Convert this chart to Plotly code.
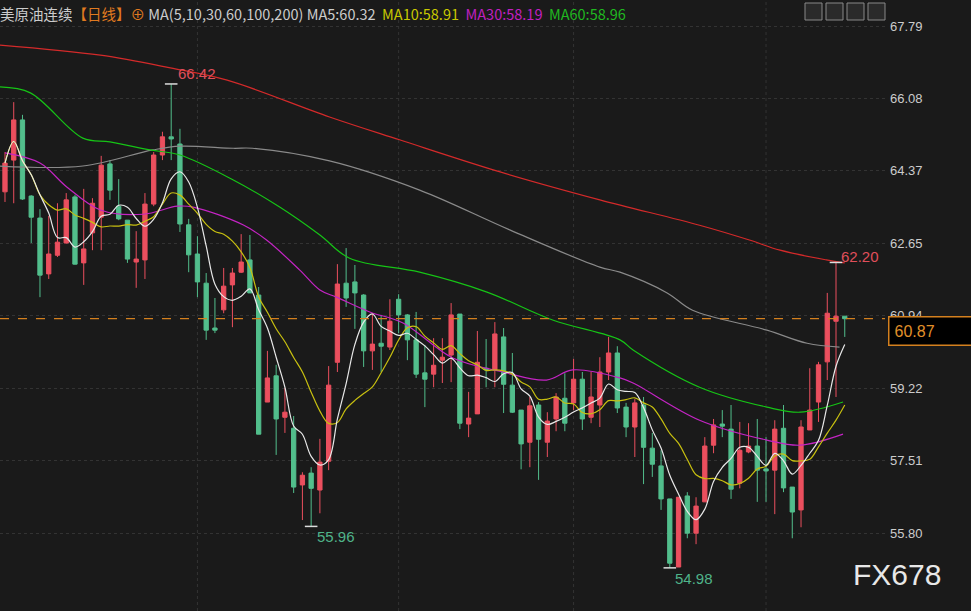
import plotly.graph_objects as go
import pandas as pd

opens = [63.87,64.62,65.57,63.77,63.25,61.93,62.37,62.66,63.75,62.19,62.90,63.27,64.53,63.53,63.20,62.21,62.26,63.58,64.74,65.17,
         65.00,63.09,62.40,61.71,60.65,61.08,61.67,61.97,62.26,61.43,58.90,59.52,58.54,58.28,56.94,57.22,56.82,57.50,59.84,61.71,
         61.74,61.43,60.11,60.29,60.20,61.33,60.96,60.37,59.59,59.56,59.89,60.01,60.98,58.38,58.62,59.70,59.66,60.44,59.30,58.71,
         57.95,58.83,57.95,58.50,58.99,58.88,59.44,58.54,58.83,59.61,60.06,58.78,58.31,58.83,57.81,57.39,56.61,55.00,56.68,55.80,
         56.54,57.88,58.38,58.26,56.98,57.72,57.86,57.32,57.29,58.28,56.89,56.35,58.24,58.90,59.85,60.81,60.93]
highs = [64.81,65.99,65.69,63.79,63.46,63.30,63.60,63.84,63.80,63.94,63.72,64.72,64.62,64.17,63.20,62.94,63.84,64.81,65.29,66.42,
         65.36,63.23,62.82,61.95,61.36,62.07,62.07,62.87,62.85,61.62,60.11,59.78,59.23,58.57,57.24,57.36,58.03,59.75,62.16,62.54,
         62.14,61.45,61.00,60.96,61.33,61.45,60.98,61.03,60.25,60.41,60.41,61.24,60.98,59.14,60.58,60.39,60.79,60.65,60.06,58.71,
         59.02,58.90,58.66,59.11,59.58,59.92,59.61,59.61,59.96,60.44,60.22,58.88,58.97,59.02,58.17,57.76,56.61,56.65,56.77,56.65,
         58.07,58.50,58.71,58.83,58.43,58.40,58.50,58.07,58.47,58.83,56.89,58.47,59.70,59.85,61.48,62.20,60.93]
lows = [63.63,63.60,63.68,62.66,61.38,61.81,62.33,62.65,62.15,61.67,62.49,62.49,63.68,63.20,62.19,61.60,61.81,63.53,64.62,64.62,
        62.92,61.97,61.38,60.37,60.53,61.00,60.67,61.95,61.48,58.14,58.90,57.65,58.17,56.75,56.11,55.96,56.27,57.29,59.61,61.15,
        60.63,59.73,59.66,59.61,60.13,60.53,59.89,59.47,58.78,59.25,59.35,59.37,58.26,58.07,58.62,59.25,59.25,58.64,58.64,57.31,
        57.36,57.06,57.60,58.21,58.21,58.71,58.24,58.40,58.31,59.42,58.64,58.07,57.60,56.96,57.13,56.35,54.98,55.00,55.68,55.54,
        56.54,57.69,58.07,56.61,56.86,57.69,56.54,56.54,56.25,56.77,55.68,55.94,58.24,58.43,59.42,59.02,60.44]
closes = [64.55,65.57,63.70,63.27,61.90,62.40,62.68,63.68,62.16,62.52,63.60,64.50,63.91,63.23,62.28,62.28,63.58,64.74,65.17,65.12,
          63.11,62.38,61.74,60.60,60.60,61.64,61.95,62.21,61.48,58.14,59.47,58.50,58.66,56.89,57.17,56.86,57.48,59.30,61.69,61.36,
          61.48,60.11,60.27,60.22,60.81,60.96,60.37,59.56,59.44,59.77,59.96,60.96,58.40,58.52,59.84,59.66,60.51,59.32,58.66,57.91,
          58.81,58.02,58.45,59.02,58.40,59.44,58.50,59.02,59.61,60.06,58.76,58.31,58.88,57.83,57.43,56.61,55.09,56.65,55.80,56.44,
          57.86,58.36,58.33,56.84,57.76,57.86,57.29,57.27,58.26,56.87,56.30,58.31,58.71,59.78,61.00,60.93,60.87]

ma30_x = [0,4,7.1,10.9,15.8,19.7,21.5,27.2,29.9,33.7,36,37.9,41.7,45.5,51.2,56.9,61.9,64.9,70.3,71.8,79.4,87.1,90.9,95.8]
ma30_y = [64.79,64.55,63.98,63.44,63.34,63.53,63.51,63.09,62.73,62.02,61.55,61.38,61.03,60.77,59.94,59.61,59.42,59.66,59.47,59.35,58.47,58.00,57.88,58.14]
ma60_x = [-0.6,2.9,8.9,12,16.6,20,26.1,31.4,36,39.4,47.4,55.1,62.6,70.3,71.8,79.4,87.1,90.9,95.8]
ma60_y = [66.35,66.21,65.14,65.05,64.86,64.74,64.15,63.51,62.85,62.30,61.97,61.50,60.84,60.37,60.13,59.25,58.78,58.66,58.90]
ma100_x = [-0.6,8.9,16.9,20,26.1,28.3,37.1,47.4,57.7,68,70.3,75.7,78.6,87.1,91.7,95.4]
ma100_y = [64.48,64.48,64.86,64.95,64.90,64.90,64.60,63.91,62.97,62.09,61.97,61.48,61.07,60.60,60.29,60.20]
ma200_x = [-0.6,10.9,18.9,25.4,37.1,45.1,56.6,68,79.4,85.1,88.6,93.9,96]
ma200_y = [67.34,67.10,66.80,66.51,65.64,65.10,64.34,63.68,63.08,62.73,62.49,62.26,62.19]

yticks = [67.79,66.08,64.37,62.65,60.94,59.22,57.51,55.80]
month_lines = [22,45,65,87]
last_price = 60.87

BG = "#1a1a1a"
RED = "#eb4f5e"
GREEN = "#52be8c"
idx = list(range(len(closes)))
cs = pd.Series(closes)
ma5 = cs.rolling(5, min_periods=1).mean()
ma10 = cs.rolling(10, min_periods=1).mean()

fig = go.Figure()
fig.add_trace(go.Candlestick(x=idx, open=opens, high=highs, low=lows, close=closes,
    increasing=dict(line=dict(color=RED, width=1), fillcolor=RED),
    decreasing=dict(line=dict(color=GREEN, width=1), fillcolor=GREEN),
    whiskerwidth=0, hoverinfo="skip"))
fig.add_trace(go.Scatter(x=ma200_x, y=ma200_y, mode="lines", line=dict(color="#d42a2a", width=1.2, shape="spline")))
fig.add_trace(go.Scatter(x=ma100_x, y=ma100_y, mode="lines", line=dict(color="#8a8a8a", width=1.2, shape="spline")))
fig.add_trace(go.Scatter(x=ma60_x, y=ma60_y, mode="lines", line=dict(color="#16c416", width=1.2, shape="spline")))
fig.add_trace(go.Scatter(x=ma30_x, y=ma30_y, mode="lines", line=dict(color="#c424c4", width=1.2, shape="spline")))
fig.add_trace(go.Scatter(x=idx, y=ma10, mode="lines", line=dict(color="#c8c010", width=1.2, shape="spline")))
fig.add_trace(go.Scatter(x=idx, y=ma5, mode="lines", line=dict(color="#e8e8e8", width=1.2, shape="spline")))

hi_i = highs.index(max(highs[:30]))
lo1 = lows.index(min(lows[:50]))
lo2 = lows.index(min(lows))
hi2 = highs.index(max(highs[80:]))
fig.add_trace(go.Scatter(x=[hi_i, lo1, lo2, hi2], y=[highs[hi_i], lows[lo1], lows[lo2], highs[hi2]],
    mode="markers", marker=dict(symbol="line-ew", size=9, line=dict(color="#dddddd", width=1.5))))

ann = []
ann.append(dict(x=hi_i, y=highs[hi_i], text=f"{highs[hi_i]:.2f}", xanchor="left", yanchor="bottom",
                showarrow=False, xshift=5, font=dict(color="#e04f5a", size=15, family="Arial")))
ann.append(dict(x=lo1, y=lows[lo1], text=f"{lows[lo1]:.2f}", xanchor="left", yanchor="top",
                showarrow=False, xshift=4, font=dict(color="#4fb389", size=15, family="Arial")))
ann.append(dict(x=lo2, y=lows[lo2], text=f"{lows[lo2]:.2f}", xanchor="left", yanchor="top",
                showarrow=False, xshift=3, font=dict(color="#4fb389", size=15, family="Arial")))
ann.append(dict(x=hi2, y=highs[hi2], text=f"{highs[hi2]:.2f}", xanchor="left", yanchor="middle",
                showarrow=False, xshift=3, yshift=6, font=dict(color="#e04f5a", size=15, family="Arial")))
ann.append(dict(xref="paper", yref="y", x=1.003, y=last_price, text=f"{last_price:.2f}", xanchor="left", yanchor="middle",
                showarrow=False, bgcolor="#000000", bordercolor="#d4801e", borderwidth=1.5, borderpad=5,
                width=72, align="left", yshift=-12, font=dict(color="#e0902a", size=16, family="Arial")))
ann.append(dict(xref="paper", yref="paper", x=943/885, y=0.03, text="FX678", xanchor="right", yanchor="bottom",
                showarrow=False, font=dict(color="#e8e8e8", size=30, family="Arial")))
header = ("<span style='color:#cccccc'>美原油连续</span>"
          "<span style='color:#e07a20'>【日线】⊕</span> "
          "<span style='color:#cccccc'>MA(5,10,30,60,100,200) MA5:60.32</span>  "
          "<span style='color:#c8c800'>MA10:58.91</span>  "
          "<span style='color:#c020c0'>MA30:58.19</span>  "
          "<span style='color:#20b820'>MA60:58.96</span>")
ann.append(dict(xref="paper", yref="paper", x=0, y=1, text=header, xanchor="left", yanchor="top",
                showarrow=False, xshift=-2, yshift=-1, font=dict(size=14.5, family="Noto Sans CJK SC")))

shapes = [dict(type="line", xref="paper", x0=0, x1=1, yref="y", y0=last_price, y1=last_price,
               line=dict(color="#d4801e", width=1.2, dash="dash"))]
for m in month_lines:
    shapes.append(dict(type="line", xref="x", x0=m, x1=m, yref="paper", y0=0, y1=1,
                       line=dict(color="#333333", width=1, dash="dot"), layer="below"))
for k in range(4):
    x0 = 805 + k*21
    shapes.append(dict(type="rect", xref="paper", yref="paper",
                       x0=(x0)/885, x1=(x0+17)/885, y0=1-20/611, y1=1-3/611,
                       line=dict(color="#888888", width=1), fillcolor="#2a2a2a"))

fig.update_layout(
    width=971, height=611, paper_bgcolor=BG, plot_bgcolor=BG,
    margin=dict(l=0, r=86, t=0, b=0), showlegend=False,
    annotations=ann, shapes=shapes,
    xaxis=dict(range=[-0.57, 100.6], showgrid=False, zeroline=False, showticklabels=False,
               rangeslider=dict(visible=False), fixedrange=True),
    yaxis=dict(range=[53.96, 68.405], side="right", tickvals=yticks, ticktext=[f"{v:.2f}" for v in yticks],
               showgrid=True, gridcolor="#333333", griddash="dot", zeroline=False,
               tickfont=dict(color="#cccccc", size=13, family="Arial"), ticks="", ticklabelstandoff=4),
)
fig.write_html("out.html", config={"displayModeBar": False},
               post_script="document.body.style.margin='0';document.body.style.padding='0';document.body.style.background='#1a1a1a';")
